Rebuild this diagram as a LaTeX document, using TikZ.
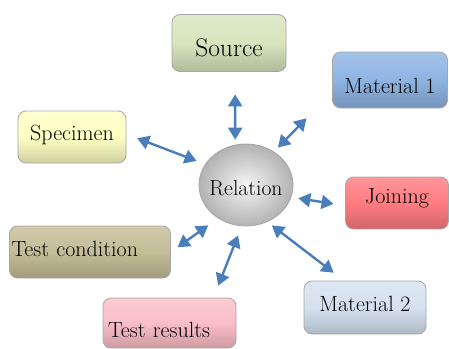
\documentclass[tikz,border=0pt]{standalone}
\usetikzlibrary{arrows.meta,shapes.geometric}

\definecolor{arrowblue}{RGB}{74,126,187}
\definecolor{srcgreen}{RGB}{215,228,189}
\definecolor{matblue}{RGB}{142,180,227}
\definecolor{specyellow}{RGB}{255,255,196}
\definecolor{joinred}{RGB}{255,124,128}
\definecolor{matgray}{RGB}{213,225,240}
\definecolor{condtan}{RGB}{196,189,151}
\definecolor{respink}{RGB}{251,190,200}

\begin{document}
\begin{tikzpicture}[x=1pt, y=-1pt,
    box/.style={rectangle, rounded corners=8pt, draw=gray!70, line width=0.8pt,
        top color=#1!80!white, bottom color=#1!82!black, middle color=#1,
        inner sep=3pt, font=\fontsize{22}{26}\selectfont},
    link/.style={<->, >={Triangle[length=12pt,width=14pt]}, arrowblue, line width=2.4pt}]
\useasboundingbox (0,0) rectangle (449,348);

\node[ellipse, draw=gray!70, line width=0.8pt, shading=radial, inner color=gray!8, outer color=gray!60,
    minimum width=94pt, minimum height=82pt, inner xsep=-7pt, inner ysep=0pt,
    text height=20pt, text depth=0pt,
    font=\fontsize{21.7}{26}\selectfont] (rel) at (246,185) {Relation};

\node[box=srcgreen, minimum width=114pt, minimum height=57pt, text height=27pt, text depth=0pt,
    font=\fontsize{25.5}{28}\selectfont] (src) at (229,43) {Source};
\node[box=matblue, minimum width=115pt, minimum height=56pt, text height=26pt, text depth=0pt] (mat1) at (390,80) {Material 1};
\node[box=specyellow, minimum width=108pt, minimum height=52pt, text height=15pt, text depth=8pt] (spec) at (72,137) {Specimen};
\node[box=joinred, minimum width=103pt, minimum height=52pt, text height=15pt, text depth=14pt] (join) at (397,203) {Joining};
\node[box=matgray, minimum width=122pt, minimum height=53pt, text height=15pt, text depth=8pt] (mat2) at (365,307.5) {Material 2};
\node[box=condtan, minimum height=52pt, text width=157pt, inner xsep=2pt, align=left,
    text height=15pt, text depth=7pt] (tcond) at (90,252) {Test condition};
\node[box=respink, minimum height=50pt, text width=123pt, inner xsep=5pt, align=left,
    text height=28pt, text depth=0pt] (tres) at (169.5,323) {Test results};

\draw[link, shorten <=22.5pt, shorten >=5pt] (src.-78) -- (rel.105);
\draw[link, shorten <=13.8pt, shorten >=5.6pt] ([xshift=-16pt]mat1.south west) -- (rel.50);
\draw[link, shorten <=11.5pt, shorten >=9pt] (spec.3) -- (rel.153);
\draw[link, shorten <=11.7pt, shorten >=7.1pt] (join.183) -- (rel.-15);
\draw[link, shorten <=13pt, shorten >=5.7pt] (mat2.128) -- (rel.-60);
\draw[link, shorten <=8.2pt, shorten >=12pt] (tcond.east) -- (rel.230);
\draw[link, shorten <=12.9pt, shorten >=9.9pt] (tres.30) -- (rel.-96);
\end{tikzpicture}
\end{document}
